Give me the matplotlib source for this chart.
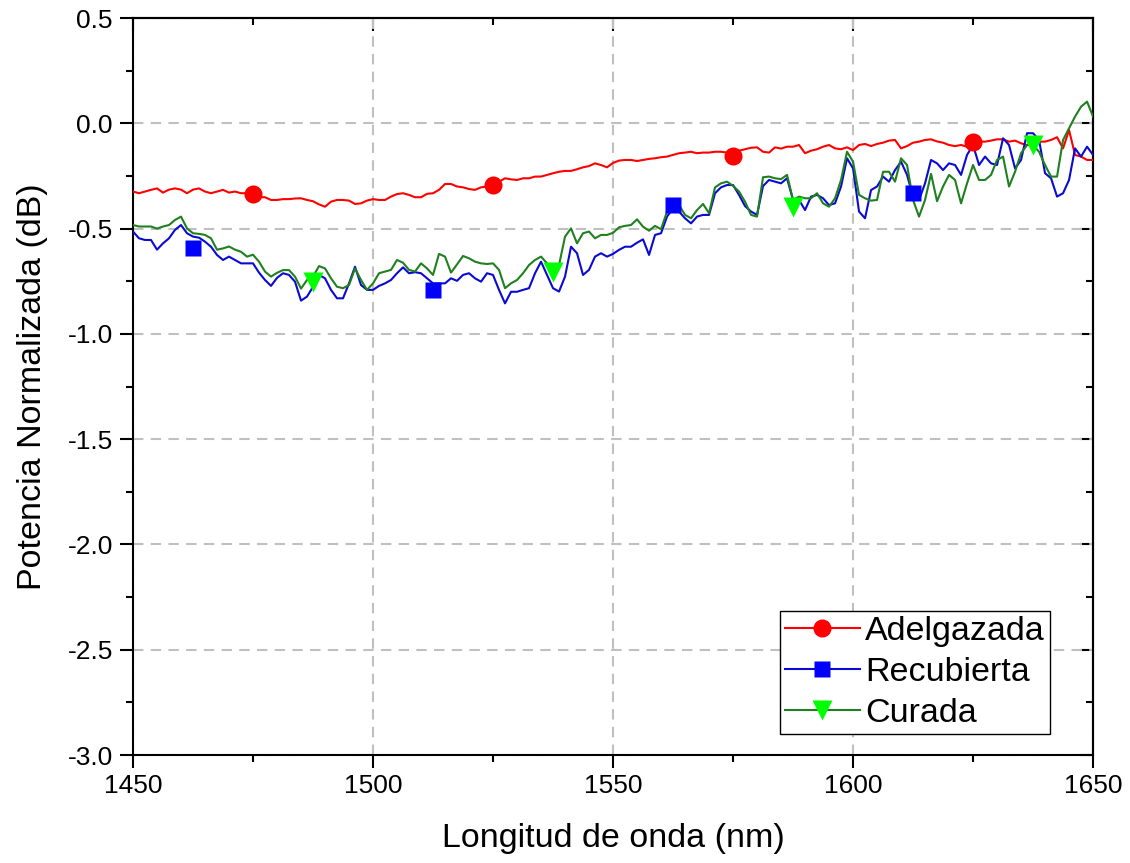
import numpy as np
import matplotlib
matplotlib.use('Agg')
from matplotlib import pyplot as plt
from matplotlib.lines import Line2D

# wavelength grid (nm), 1.25 nm step
wavelength = np.arange(1450, 1650.01, 1.25)

adelgazada = [-0.324, -0.332, -0.324, -0.316, -0.309, -0.329, -0.315, -0.309, -0.315, -0.332,
              -0.315, -0.309, -0.324, -0.332, -0.324, -0.316, -0.329, -0.324, -0.332, -0.332,
              -0.340, -0.351, -0.351, -0.364, -0.364, -0.360, -0.360, -0.357, -0.356, -0.364,
              -0.370, -0.385, -0.396, -0.372, -0.364, -0.364, -0.367, -0.383, -0.380, -0.367,
              -0.360, -0.364, -0.364, -0.348, -0.336, -0.332, -0.340, -0.351, -0.351, -0.335,
              -0.332, -0.316, -0.288, -0.288, -0.300, -0.304, -0.312, -0.316, -0.304, -0.300,
              -0.298, -0.277, -0.261, -0.266, -0.269, -0.261, -0.261, -0.253, -0.253, -0.245,
              -0.237, -0.230, -0.226, -0.226, -0.218, -0.209, -0.203, -0.190, -0.198, -0.209,
              -0.188, -0.177, -0.174, -0.174, -0.179, -0.174, -0.169, -0.166, -0.161, -0.158,
              -0.150, -0.142, -0.139, -0.135, -0.142, -0.139, -0.139, -0.135, -0.135, -0.139,
              -0.139, -0.130, -0.123, -0.116, -0.114, -0.135, -0.139, -0.114, -0.120, -0.111,
              -0.111, -0.103, -0.142, -0.130, -0.123, -0.111, -0.103, -0.119, -0.123, -0.114,
              -0.127, -0.103, -0.098, -0.108, -0.098, -0.092, -0.082, -0.079, -0.119, -0.108,
              -0.092, -0.087, -0.079, -0.076, -0.086, -0.092, -0.103, -0.108, -0.103, -0.111,
              -0.087, -0.087, -0.087, -0.082, -0.076, -0.076, -0.087, -0.082, -0.095, -0.103,
              -0.092, -0.087, -0.087, -0.079, -0.066, -0.119, -0.032, -0.150, -0.158, -0.174,
              -0.174]

recubierta = [-0.514, -0.546, -0.554, -0.554, -0.600, -0.570, -0.546, -0.506, -0.483, -0.522,
              -0.538, -0.543, -0.562, -0.586, -0.625, -0.649, -0.633, -0.649, -0.665, -0.665,
              -0.665, -0.709, -0.744, -0.772, -0.734, -0.712, -0.720, -0.752, -0.842, -0.823,
              -0.776, -0.720, -0.736, -0.791, -0.831, -0.831, -0.760, -0.681, -0.768, -0.791,
              -0.791, -0.772, -0.760, -0.744, -0.712, -0.684, -0.712, -0.707, -0.712, -0.736,
              -0.760, -0.760, -0.760, -0.736, -0.748, -0.720, -0.712, -0.736, -0.752, -0.712,
              -0.720, -0.791, -0.855, -0.800, -0.800, -0.791, -0.783, -0.712, -0.657, -0.720,
              -0.783, -0.799, -0.728, -0.586, -0.617, -0.720, -0.696, -0.633, -0.617, -0.633,
              -0.620, -0.601, -0.586, -0.586, -0.567, -0.551, -0.625, -0.530, -0.522, -0.443,
              -0.404, -0.419, -0.451, -0.475, -0.443, -0.435, -0.435, -0.332, -0.304, -0.293,
              -0.293, -0.340, -0.393, -0.419, -0.435, -0.298, -0.269, -0.277, -0.285, -0.261,
              -0.364, -0.364, -0.412, -0.348, -0.340, -0.356, -0.388, -0.380, -0.300, -0.166,
              -0.214, -0.419, -0.451, -0.317, -0.300, -0.253, -0.277, -0.222, -0.182, -0.245,
              -0.348, -0.364, -0.285, -0.174, -0.190, -0.222, -0.190, -0.198, -0.245, -0.150,
              -0.103, -0.198, -0.158, -0.190, -0.198, -0.071, -0.103, -0.214, -0.174, -0.047,
              -0.047, -0.079, -0.237, -0.261, -0.348, -0.332, -0.269, -0.119, -0.158, -0.111,
              -0.150]

curada = [-0.483, -0.490, -0.490, -0.490, -0.500, -0.490, -0.483, -0.459, -0.443, -0.499,
          -0.522, -0.525, -0.530, -0.546, -0.600, -0.594, -0.585, -0.600, -0.610, -0.633,
          -0.624, -0.657, -0.704, -0.728, -0.710, -0.697, -0.697, -0.728, -0.785, -0.744,
          -0.728, -0.678, -0.689, -0.736, -0.776, -0.783, -0.768, -0.689, -0.744, -0.791,
          -0.760, -0.712, -0.704, -0.696, -0.649, -0.662, -0.696, -0.704, -0.665, -0.689,
          -0.720, -0.620, -0.633, -0.709, -0.670, -0.630, -0.641, -0.657, -0.665, -0.668,
          -0.665, -0.696, -0.783, -0.760, -0.744, -0.712, -0.673, -0.649, -0.633, -0.665,
          -0.696, -0.673, -0.538, -0.499, -0.570, -0.522, -0.514, -0.546, -0.530, -0.530,
          -0.520, -0.494, -0.487, -0.483, -0.456, -0.491, -0.510, -0.487, -0.503, -0.419,
          -0.364, -0.388, -0.435, -0.451, -0.412, -0.383, -0.427, -0.304, -0.285, -0.277,
          -0.297, -0.324, -0.372, -0.435, -0.443, -0.256, -0.253, -0.261, -0.265, -0.245,
          -0.364, -0.348, -0.356, -0.356, -0.332, -0.380, -0.396, -0.356, -0.269, -0.135,
          -0.182, -0.340, -0.356, -0.367, -0.364, -0.230, -0.230, -0.277, -0.166, -0.198,
          -0.364, -0.443, -0.364, -0.240, -0.370, -0.300, -0.245, -0.269, -0.380, -0.285,
          -0.198, -0.269, -0.269, -0.245, -0.174, -0.158, -0.300, -0.230, -0.142, -0.103,
          -0.103, -0.135, -0.198, -0.253, -0.253, -0.079, -0.024, 0.032, 0.079, 0.103,
          0.032]

# symbol points (Origin draws one symbol every 50 nm)
mk_adel_x = [1475, 1525, 1575, 1625]
mk_adel_y = [-0.336, -0.293, -0.155, -0.089]
mk_recu_x = [1462.5, 1512.5, 1562.5, 1612.5]
mk_recu_y = [-0.592, -0.790, -0.388, -0.331]
mk_cura_x = [1487.5, 1537.5, 1587.5, 1637.5]
mk_cura_y = [-0.754, -0.706, -0.397, -0.103]

labels = ['Adelgazada', 'Recubierta', 'Curada']

plt.rcParams['font.family'] = ['Liberation Sans', 'DejaVu Sans']

fig = plt.figure(figsize=(11.3, 8.63), dpi=100)
ax = fig.add_axes([0.1177, 0.1251, 0.8496, 0.8540])

red, blue, green, lime = '#ff0000', '#0a0ad2', '#1f801f', '#00ff00'

ax.plot(wavelength, adelgazada, color=red, lw=1.5, zorder=3)
ax.plot(wavelength, recubierta, color=blue, lw=1.5, zorder=3)
ax.plot(wavelength, curada, color=green, lw=1.5, zorder=4)

ax.plot(mk_adel_x, mk_adel_y, 'o', color=red, ms=13, mec='none', zorder=5)
ax.plot(mk_recu_x, mk_recu_y, 's', color='#0000ff', ms=12, mec='none', zorder=5)
ax.plot(mk_cura_x, mk_cura_y, 'v', color=lime, ms=15, mec='none', zorder=5)

ax.set_xlim(1450, 1650)
ax.set_ylim(-3.0, 0.5)
ax.set_xticks([1450, 1500, 1550, 1600, 1650])
ax.set_xticks([1475, 1525, 1575, 1625], minor=True)
ax.set_yticks(np.arange(-3.0, 0.51, 0.5))
ax.set_yticks(np.arange(-2.75, 0.5, 0.5), minor=True)
ax.yaxis.set_major_formatter(plt.FormatStrFormatter('%.1f'))

ax.grid(True, which='major', color='#c0c0c0', ls=(0, (5, 3.5)), lw=1.5, zorder=0)
for s in ax.spines.values():
    s.set_linewidth(1.5)
ax.tick_params(which='major', direction='out', length=9.5, width=1.5, labelsize=19)
ax.tick_params(which='minor', direction='out', length=5, width=1.5)
ax.tick_params(axis='y', pad=5)
ax.tick_params(axis='x', pad=4)

# mirrored ticks on top and right, pointing inward
top = ax.secondary_xaxis('top')
top.set_xticks([1450, 1500, 1550, 1600, 1650])
top.set_xticks([1475, 1525, 1575, 1625], minor=True)
right = ax.secondary_yaxis('right')
right.set_yticks(np.arange(-3.0, 0.51, 0.5))
right.set_yticks(np.arange(-2.75, 0.5, 0.5), minor=True)
for sec in (top, right):
    sec.tick_params(which='major', direction='in', length=9.5, width=1.5,
                    labelleft=False, labelright=False, labeltop=False, labelbottom=False)
    sec.tick_params(which='minor', direction='in', length=5, width=1.5)
    for s in sec.spines.values():
        s.set_linewidth(1.5)

ax.set_xlabel('Longitud de onda (nm)', fontsize=24.5, labelpad=18)
ax.set_ylabel('Potencia Normalizada (dB)', fontsize=24.5, labelpad=14)

handles = [
    Line2D([], [], color=red, lw=1.5, marker='o', ms=13, mfc=red, mec='none'),
    Line2D([], [], color=blue, lw=1.5, marker='s', ms=12, mfc='#0000ff', mec='none'),
    Line2D([], [], color=green, lw=1.5, marker='v', ms=15, mfc=lime, mec='none'),
]
leg = ax.legend(handles, labels, loc='lower right', bbox_to_anchor=(0.955, 0.028),
                fontsize=24.5, frameon=True, fancybox=False, edgecolor='black',
                framealpha=1, handlelength=2.2, handletextpad=0.15, labelspacing=0.3,
                borderpad=0.15, borderaxespad=0)
leg.get_frame().set_linewidth(1.0)

fig.savefig('out.png', dpi=100)
